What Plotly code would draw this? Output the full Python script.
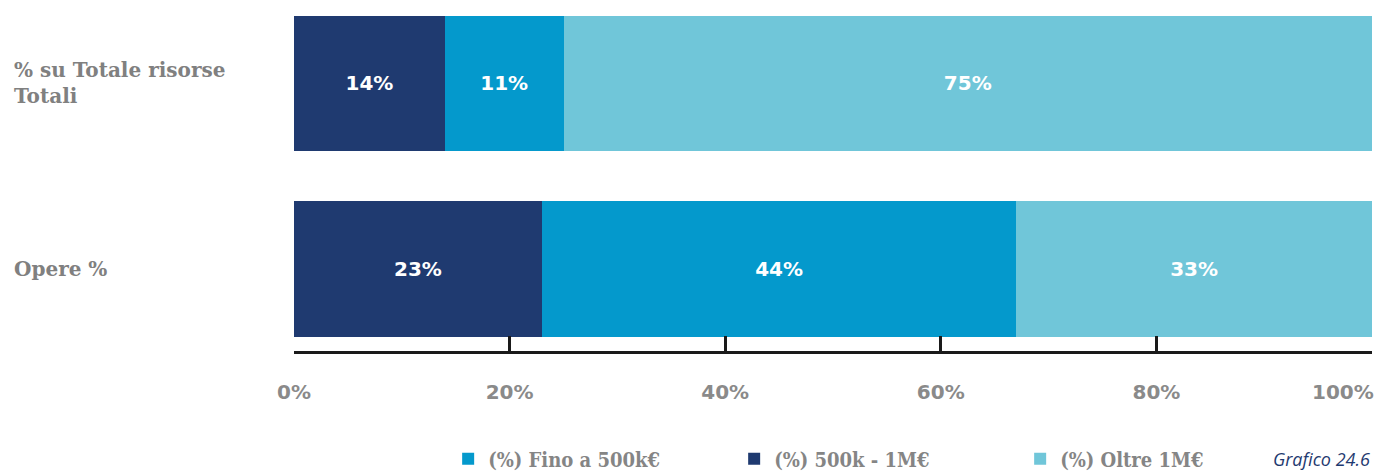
import plotly.graph_objects as go

categorie = ["Opere %", "% su Totale risorse<br>Totali"]
serie = ["(%) 500k - 1M€", "(%) Fino a 500k€", "(%) Oltre 1M€"]
valori = {
    "(%) 500k - 1M€": [23, 14],
    "(%) Fino a 500k€": [44, 11],
    "(%) Oltre 1M€": [33, 75],
}
colori = {
    "(%) 500k - 1M€": "#1f3a70",
    "(%) Fino a 500k€": "#0499cc",
    "(%) Oltre 1M€": "#70c6d9",
}
ordine_legenda = {"(%) Fino a 500k€": 1, "(%) 500k - 1M€": 2, "(%) Oltre 1M€": 3}
tick_vals = [0, 20, 40, 60, 80, 100]
tick_text = ["0%", "20%", "40%", "60%", "80%", "100%"]

fig = go.Figure()
for s in serie:
    fig.add_trace(go.Bar(
        y=categorie,
        x=valori[s],
        name=s,
        orientation="h",
        marker_color=colori[s],
        marker_line_width=0,
        text=[f"{v}%" for v in valori[s]],
        textposition="inside",
        insidetextanchor="middle",
        textfont=dict(family="DejaVu Sans", size=20, color="white", weight="bold"),
        legendrank=ordine_legenda[s],
        hoverinfo="skip",
    ))

# etichette delle categorie allineate a sinistra
for c in categorie:
    fig.add_annotation(
        x=-0.2616, xref="paper", y=c, yref="y",
        text=f"<b>{c}</b>", showarrow=False,
        xanchor="left", align="left",
        font=dict(family="DejaVu Serif", size=20, color="#808080"),
    )

# l'ultima etichetta (100%) allineata al bordo destro
fig.add_annotation(
    x=tick_vals[-1], xref="x", y=-0.12, yref="paper",
    text=f"<b>{tick_text[-1]}</b>", showarrow=False,
    xanchor="right", yanchor="middle", xshift=4,
    font=dict(family="DejaVu Sans", size=20, color="#8a8a8a"),
)

fig.add_annotation(
    x=1, xref="paper", y=-0.316, yref="paper",
    text="<i>Grafico 24.6</i>", showarrow=False,
    xanchor="right", yanchor="middle",
    font=dict(family="Open Sans", size=18, color="#1f3a70"),
)

# asse secondario solo per le tacche (senza 0)
fig.add_trace(go.Scatter(x=[None], y=[None], xaxis="x2", showlegend=False))

fig.update_layout(
    width=1376, height=472,
    barmode="stack",
    bargap=0.272,
    plot_bgcolor="white",
    paper_bgcolor="white",
    margin=dict(l=294, r=4, t=10, b=121, autoexpand=False),
    showlegend=True,
    legend=dict(
        orientation="h", traceorder="normal",
        x=0.143, y=-0.316, xanchor="left", yanchor="middle",
        entrywidth=241, entrywidthmode="pixels",
        font=dict(family="DejaVu Serif Condensed, DejaVu Serif", size=20, color="#858585", weight="bold"),
        itemclick=False,
    ),
    xaxis=dict(
        range=[0, 100],
        tickvals=tick_vals[:-1], ticktext=tick_text[:-1],
        ticks="", showgrid=False, zeroline=False,
        showline=True, linecolor="#1a1a1a", linewidth=3,
        ticklabelstandoff=21, automargin=False,
        tickfont=dict(family="DejaVu Sans", size=20, color="#8a8a8a", weight="bold"),
    ),
    xaxis2=dict(
        overlaying="x", side="bottom", anchor="y",
        range=[0, 100],
        tickvals=tick_vals[1:], showticklabels=False,
        ticks="inside", ticklen=15, tickwidth=3, tickcolor="#1a1a1a",
        showgrid=False, zeroline=False, showline=False,
    ),
    yaxis=dict(
        range=[-0.442, 1.396], automargin=False,
        showticklabels=False, showgrid=False, zeroline=False, showline=False,
    ),
)

fig.write_html("out.html", config={"displayModeBar": False},
               post_script="document.body.style.margin='0';")
